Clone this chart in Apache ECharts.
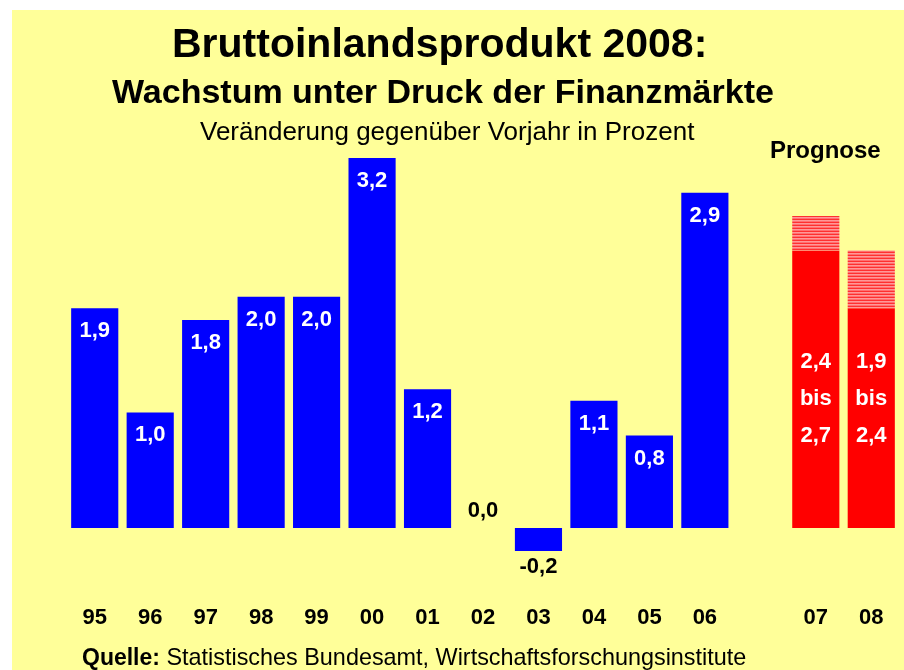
<!DOCTYPE html>
<html><head><meta charset="utf-8">
<script src="https://cdn.jsdelivr.net/npm/echarts@6/dist/echarts.min.js"></script>
<style>html,body{margin:0;padding:0;background:#fff}#c{width:904px;height:670px}</style>
</head><body><div id="c"></div>
<script>
var categories = ['95','96','97','98','99','00','01','02','03','04','05','06','','07','08'];
var actual = [1.9,1.0,1.8,2.0,2.0,3.2,1.2,0.0,-0.2,1.1,0.8,2.9];
var forecastLow = [2.4,1.9];
var forecastHigh = [2.7,2.4];
var forecastLabels = ['2,4\nbis\n2,7','1,9\nbis\n2,4'];

var n = categories.length;
var fStart = n - forecastLow.length;
var blueData = [], lowData = [], rangeData = [];
for (var i = 0; i < n; i++) {
  blueData.push(i < actual.length ? actual[i] : null);
  if (i >= fStart) {
    var k = i - fStart;
    lowData.push({value: forecastLow[k], label: {formatter: forecastLabels[k]}});
    rangeData.push(+(forecastHigh[k] - forecastLow[k]).toFixed(2));
  } else { lowData.push(null); rangeData.push(null); }
}
function fmt(v){ return v.toFixed(1).replace('.', ','); }
var blueItems = blueData.map(function(v){
  if (v === null) return null;
  var o = {value: v};
  if (v === 0) o.label = {position: 'top', color: '#000', distance: 6};
  else if (v < 0) o.label = {position: 'bottom', color: '#000', distance: 5};
  return o;
});

var cv = document.createElement('canvas'); cv.width = 4; cv.height = 3;
var cx = cv.getContext('2d');
cx.fillStyle = '#FF3030'; cx.fillRect(0,0,4,3);
cx.fillStyle = '#FF9898'; cx.fillRect(0,1,4,1);
cx.fillStyle = '#FF7070'; cx.fillRect(0,2,4,1);

var F = '"Liberation Sans", Arial';
var chart = echarts.init(document.getElementById('c'));
chart.setOption({
  backgroundColor: '#ffffff',
  animation: false,
  graphic: [
    {type: 'rect', left: 12, top: 10, shape: {width: 892, height: 660}, style: {fill: '#FFFF99'}, z: -10},
    {type: 'text', left: 172, top: 25, style: {text: 'Bruttoinlandsprodukt 2008:', font: 'bold 41px ' + F, fill: '#000'}},
    {type: 'text', left: 112, top: 77, style: {text: 'Wachstum unter Druck der Finanzmärkte', font: 'bold 34px ' + F, fill: '#000'}},
    {type: 'text', left: 200, top: 120, style: {text: 'Veränderung gegenüber Vorjahr in Prozent', font: '26px ' + F, fill: '#000'}},
    {type: 'text', left: 770, top: 139, style: {text: 'Prognose', font: 'bold 24px ' + F, fill: '#000'}},
    {type: 'text', left: 82, top: 647, style: {rich: {b: {font: 'bold 23px ' + F, fill: '#000'}, n: {font: '23.4px ' + F, fill: '#000'}}, text: '{b|Quelle:}{n| Statistisches Bundesamt, Wirtschaftsforschungsinstitute}'}}
  ],
  grid: {left: 67, right: 5, top: 123.4, bottom: 84.2, containLabel: false},
  xAxis: {
    type: 'category', data: categories,
    axisLine: {show: false, onZero: false}, axisTick: {show: false},
    axisLabel: {margin: 21, color: '#000', fontWeight: 'bold', fontSize: 22, fontFamily: F}
  },
  yAxis: {type: 'value', min: -0.5, max: 3.5, show: false, splitLine: {show: false}},
  series: [
    {type: 'bar', stack: 's', data: blueItems, barWidth: '85%',
     itemStyle: {color: '#0000FF'},
     label: {show: true, position: 'insideTop', distance: 12, color: '#fff', fontWeight: 'bold', fontSize: 22, fontFamily: F,
       formatter: function(p){ return fmt(p.value); }}},
    {type: 'bar', stack: 's', data: lowData, barWidth: '85%',
     itemStyle: {color: '#FF0000'},
     label: {show: true, position: 'insideBottom', distance: 74, color: '#fff', fontWeight: 'bold', fontSize: 22, lineHeight: 37, fontFamily: F}},
    {type: 'bar', stack: 's', data: rangeData, barWidth: '85%',
     itemStyle: {color: {image: cv, repeat: 'repeat'}}}
  ]
});
</script></body></html>
